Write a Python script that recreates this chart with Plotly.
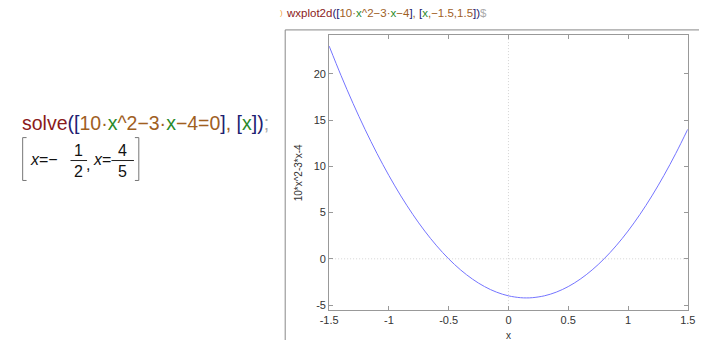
import plotly.graph_objects as go

# ---- data ----
x_vals = [-1.5, -1.4, -1.3, -1.2, -1.1, -1.0, -0.9, -0.8, -0.7, -0.6, -0.5, -0.4, -0.3, -0.2, -0.1,
          0.0, 0.1, 0.15, 0.2, 0.3, 0.4, 0.5, 0.6, 0.7, 0.8, 0.9, 1.0, 1.1, 1.2, 1.3, 1.4, 1.5]
y_vals = [23.0, 19.8, 16.8, 14.0, 11.4, 9.0, 6.8, 4.8, 3.0, 1.4, 0.0, -1.2, -2.2, -3.0, -3.6,
          -4.0, -4.2, -4.225, -4.2, -4.0, -3.6, -3.0, -2.2, -1.2, 0.0, 1.4, 3.0, 4.8, 6.8, 9.0, 11.4, 14.0]
x_ticks = [-1.5, -1, -0.5, 0, 0.5, 1, 1.5]
x_tick_labels = ["-1.5", "-1", "-0.5", "0", "0.5", "1", "1.5"]
y_ticks = [-5, 0, 5, 10, 15, 20]
y_tick_labels = ["-5", "0", "5", "10", "15", "20"]
x_title = "x"
y_title = "10*x^2-3*x-4"

W, H = 707, 341
def px(v): return v / W
def py(v): return 1 - v / H

FONT = "Liberation Sans"
RED = "#8b1a1a"
NAVY = "#202070"
BROWN = "#a0601f"
GREEN = "#2a8a2a"
GRAY = "#aaaaaa"

def c(t, col):
    return f'<span style="color:{col}">{t}</span>'

solve_text = (c("solve", RED) + c("([", NAVY) + c("10·", BROWN) + c("x", GREEN) + c("^2−3·", BROWN)
              + c("x", GREEN) + c("−4=0", BROWN) + c("]", NAVY) + c(", ", BROWN) + c("[", NAVY)
              + c("x", GREEN) + c("])", NAVY) + c(";", GRAY))
header_text = (c("wxplot2d", RED) + c("([", NAVY) + c("10·", BROWN) + c("x", GREEN) + c("^2−3·", BROWN)
               + c("x", GREEN) + c("−4", BROWN) + c("]", NAVY) + c(", ", BROWN) + c("[", NAVY)
               + c("x", GREEN) + c(",−1.5,1.5", BROWN) + c("])", NAVY) + c("$", GRAY))

fig = go.Figure()
fig.add_trace(go.Scatter(x=x_vals, y=y_vals, mode="lines", line=dict(color="#7474ff", width=1, shape="spline"),
                         hoverinfo="skip", showlegend=False))

x0, x1 = 328, 695.5
ytop, ybot = 35, 311
axis_common = dict(showline=True, linecolor="#999999", linewidth=1, mirror="ticks", ticks="inside",
                   ticklen=4, tickcolor="#999999", showgrid=False, zeroline=False,
                   tickfont=dict(family=FONT, size=11, color="#333333"))
fig.update_layout(
    width=W, height=H, margin=dict(l=0, r=0, t=0, b=0),
    paper_bgcolor="white", plot_bgcolor="white",
    xaxis=dict(domain=[px(x0), px(x1)], range=[-1.5, 1.5], tickvals=x_ticks, ticktext=x_tick_labels,
               **axis_common),
    yaxis=dict(domain=[py(ybot), py(ytop)], range=[-5.54, 24.2], tickvals=y_ticks, ticktext=y_tick_labels,
               **axis_common),
)

shapes = []
# dotted zero axes
shapes.append(dict(type="line", xref="x", yref="y domain", x0=0, x1=0, y0=0, y1=1,
                   line=dict(color="#d4d4d4", width=1, dash="1px,2px"), layer="below"))
shapes.append(dict(type="line", xref="x domain", yref="y", x0=0, x1=1, y0=0, y1=0,
                   line=dict(color="#d4d4d4", width=1, dash="1px,2px"), layer="below"))
# image frame of the wxMaxima cell
shapes.append(dict(type="line", xref="paper", yref="paper", x0=px(283), x1=1, y0=py(30), y1=py(30),
                   line=dict(color="#888888", width=1)))
shapes.append(dict(type="line", xref="paper", yref="paper", x0=px(283), x1=px(283), y0=py(30), y1=0,
                   line=dict(color="#888888", width=1)))
# result brackets
def bracket(xl, serif):
    out = [dict(type="line", xref="paper", yref="paper", x0=px(xl), x1=px(xl), y0=py(138), y1=py(181),
                line=dict(color="#777777", width=1))]
    for yy in (138, 181):
        out.append(dict(type="line", xref="paper", yref="paper", x0=px(xl), x1=px(xl + serif),
                        y0=py(yy), y1=py(yy), line=dict(color="#777777", width=1)))
    return out
shapes += bracket(14, 4)
shapes += bracket(133, -4)
# fraction bars
for a, b in ((63, 80), (105, 128)):
    shapes.append(dict(type="line", xref="paper", yref="paper", x0=px(a), x1=px(b), y0=py(161), y1=py(161),
                       line=dict(color="#222222", width=1)))
fig.update_layout(shapes=shapes)

ann = []
def text(t, x, y, size, xanchor="center", color="#111111", angle=0):
    ann.append(dict(text=t, x=px(x), y=py(y), xref="paper", yref="paper", xanchor=xanchor, yanchor="middle",
                    showarrow=False, textangle=angle, borderpad=0,
                    font=dict(family=FONT, size=size, color=color)))

text(solve_text, 12, 123, 19.5, xanchor="left")
text(header_text, 283, 13, 11.5, xanchor="left")
text(")", 279, 13, 8, color="#f0a040")
# result [x = -1/2, x = 4/5]
text("<i>x</i>=−", 20, 160, 16, xanchor="left")
text("1", 71.5, 151, 16)
text("2", 71.5, 172, 16)
text(",", 81, 165, 16)
text("<i>x</i>=", 85, 160, 16, xanchor="left")
text("4", 116.5, 151, 16)
text("5", 116.5, 172, 16)
# axis titles
text(y_title, 297, 173, 10, color="#333333", angle=-90)
text(x_title, 512, 336, 10, color="#333333")
fig.update_layout(annotations=ann)

fig.write_html("out.html", config={"displayModeBar": False},
               post_script="document.body.style.margin='0';")
